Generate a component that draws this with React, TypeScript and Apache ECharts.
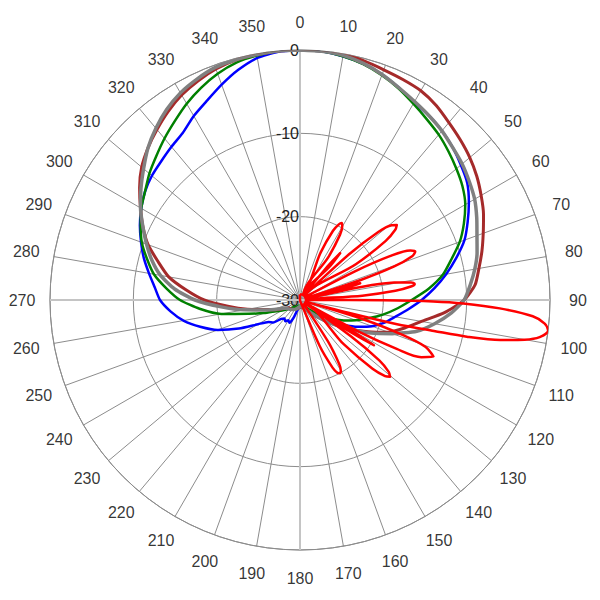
import React, { useEffect, useRef } from "react";
import * as echarts from "echarts";

const angleTicks = [0, 10, 20, 30, 40, 50, 60, 70, 80, 90, 100, 110, 120, 130, 140, 150, 160, 170, 180, 190, 200, 210, 220, 230, 240, 250, 260, 270, 280, 290, 300, 310, 320, 330, 340, 350];

const radiusMin = -30;
const radiusMax = 0;
const radiusStep = 10;

const angles5 = [0, 5, 10, 15, 20, 25, 30, 35, 40, 45, 50, 55, 60, 65, 70, 75, 80, 85, 90, 95, 100, 105, 110, 115, 120, 125, 130, 135, 140, 145, 150, 155, 160, 165, 170, 175, 180, 185, 190, 195, 200, 205, 210, 215, 220, 225, 230, 235, 240, 245, 250, 255, 260, 265, 270, 275, 280, 285, 290, 295, 300, 305, 310, 315, 320, 325, 330, 335, 340, 345, 350, 355];

const blueDb = [0, -0.05, -0.3, -0.65, -1.2, -1.9, -2.6, -3.0, -3.5, -4.1, -4.8, -5.5, -6.6, -7.8, -9.0, -10.6, -12.2, -13.8, -15.4, -17.0, -18.4, -19.5, -20.8, -22.4, -24.0, -25.3, -26.3, -27.3, -28.0, -28.5, -28.8, -29.0, -29.1, -29.2, -29.2, -29.2, -29.2, -29.1, -29.0, -28.7, -27.7, -27.0, -27.2, -26.9, -27.1, -26.8, -25.8, -25.4, -24.2, -21.9, -19.5, -17.6, -15.8, -14.4, -13.2, -12.5, -11.6, -10.6, -9.7, -8.8, -8.0, -7.3, -6.8, -6.45, -6.0, -5.5, -4.5, -3.6, -2.5, -1.4, -0.5, -0.1];

const greenDb = [0, -0.05, -0.3, -0.7, -1.3, -2.0, -2.8, -3.5, -4.1, -4.8, -5.5, -6.2, -7.1, -8.3, -9.6, -11.2, -12.6, -14.5, -16.6, -18.3, -19.9, -21.5, -22.9, -24.2, -25.5, -26.7, -27.6, -28.3, -28.8, -29.1, -29.2, -29.3, -29.3, -29.3, -29.3, -29.3, -29.3, -29.3, -29.3, -29.3, -29.2, -29.2, -29.1, -29.0, -28.9, -28.7, -28.4, -28.0, -27.5, -26.8, -25.4, -23.6, -20.4, -17.9, -15.6, -13.9, -12.2, -11.0, -9.8, -8.9, -8.0, -7.3, -6.4, -5.6, -4.7, -3.8, -2.8, -1.9, -1.1, -0.5, -0.2, 0];

const brownDb = [0, 0, 0, -0.3, -0.6, -0.8, -1.0, -1.5, -2.2, -2.8, -3.4, -4.1, -4.9, -5.7, -6.6, -7.4, -8.2, -8.9, -10.3, -12.6, -15.2, -17.0, -18.7, -21.0, -23.0, -24.8, -26.2, -27.2, -27.9, -28.4, -28.7, -28.9, -29.0, -29.1, -29.1, -29.1, -29.1, -29.1, -29.0, -29.0, -28.9, -28.8, -28.7, -28.6, -28.5, -28.5, -28.4, -28.4, -28.0, -27.4, -26.6, -25.6, -23.6, -21.3, -18.5, -16.3, -14.0, -12.4, -10.6, -9.2, -7.9, -6.5, -5.2, -4.2, -3.3, -2.4, -1.6, -1.0, -0.5, -0.2, -0.1, 0];

const grayDb = [0, -0.05, -0.2, -0.6, -1.2, -1.9, -2.5, -3.0, -3.5, -4.1, -4.6, -5.2, -5.8, -6.6, -7.4, -8.0, -8.7, -9.5, -10.3, -11.8, -13.6, -15.5, -18.2, -20.6, -23.0, -24.8, -26.2, -27.3, -28.0, -28.5, -28.8, -29.0, -29.1, -29.2, -29.2, -29.2, -29.2, -29.2, -29.1, -29.0, -28.9, -28.8, -28.7, -28.6, -28.5, -28.4, -28.3, -28.2, -28.1, -27.6, -26.7, -25.4, -23.2, -20.5, -17.4, -14.9, -13.0, -11.6, -10.4, -9.2, -7.9, -6.7, -5.5, -4.2, -3.1, -2.1, -1.3, -0.75, -0.3, -0.15, -0.1, 0];

const redAngles = [0, 21.5, 23.5, 25.5, 27.2, 28.5, 29.8, 31.5, 33.5, 35.5, 38, 39.5, 40.6, 41.7, 43, 45, 47, 49, 50.8, 52.2, 53.6, 55.4, 57.4, 59.5, 61, 62.5, 64, 65.8, 67.2, 68.6, 70.4, 71.8, 72.8, 73.6, 74.4, 75.2, 76.2, 78, 79.5, 81, 82, 83, 84.5, 86, 88, 89.8, 90.2, 90.6, 91.2, 92.4, 94, 95.5, 97, 98.8, 100, 101.3, 102.4, 103, 104, 104.8, 105.8, 107, 108.8, 110.5, 113, 115.2, 116.8, 118.3, 119.5, 120.5, 121.5, 122.5, 123.5, 125.5, 127.3, 129, 130.4, 131.8, 133.5, 135.3, 137.5, 143.5, 146, 148.5, 150, 151.4, 152.8, 154.3, 156.8, 159, 180, 270, 359];

const redDb = [-29.3, -29.3, -23.8, -20.8, -19.8, -19.5, -19.8, -20.8, -23.8, -29.3, -29.3, -24.5, -22.6, -24.5, -29.3, -29.3, -22, -17.5, -15.8, -15.3, -15.8, -17.5, -22, -29.3, -29.3, -22.5, -18, -15.5, -15.0, -15.5, -18, -22.5, -29.3, -24.5, -22.5, -24.5, -29.3, -22.5, -18.5, -16.5, -16.1, -16.5, -18.5, -22.5, -29.3, -29.3, -20, -14, -10.4, -6.0, -2.0, -0.5, 0, -0.9, -2.6, -5.5, -9.5, -13.5, -18, -24, -29.3, -22, -17, -13.9, -12.6, -13.9, -17, -22, -29.3, -23.5, -19.6, -23.5, -29.3, -22.5, -18, -16.3, -15.8, -16.3, -18, -22.5, -29.3, -29.3, -24, -21, -20.2, -20, -20.2, -21, -24, -29.3, -30, -30, -29.3];

const FONT = "'Liberation Sans', Arial, sans-serif";

function closedLoop(angles: number[], db: number[]) {
  const pts = angles.map((a, i) => [db[i], a]);
  pts.push([db[0], 360]);
  return pts;
}

function lineSeries(name: string, data: number[][], color: string, width: number, smooth: number | boolean = false) {
  return {
    name,
    type: "line",
    coordinateSystem: "polar",
    polarIndex: 0,
    data,
    smooth,
    symbol: "none",
    showSymbol: false,
    silent: true,
    lineStyle: { color, width, join: "round" },
    itemStyle: { color },
  };
}

export default function App() {
  const ref = useRef<HTMLDivElement>(null);

  useEffect(() => {
    if (!ref.current) return;
    const chart = echarts.init(ref.current, null, { renderer: "svg" });
    const gridColor = "#8c8c8c";
    chart.setOption({
      animation: false,
      backgroundColor: "#ffffff",
      textStyle: { fontFamily: FONT },
      polar: [
        { center: ["50%", "50%"], radius: 250 },
        { center: ["50%", "50%"], radius: 278 },
      ],
      angleAxis: [
        {
          polarIndex: 0,
          type: "value",
          min: 0,
          max: 360,
          interval: 10,
          startAngle: 90,
          clockwise: true,
          axisLine: { show: true, lineStyle: { color: gridColor, width: 1 } },
          axisTick: { show: false },
          axisLabel: { show: false },
          splitLine: { show: true, lineStyle: { color: gridColor, width: 1 } },
        },
        {
          polarIndex: 1,
          type: "value",
          min: 0,
          max: 360,
          startAngle: 90,
          clockwise: true,
          show: false,
        },
      ],
      radiusAxis: [
        {
          polarIndex: 0,
          type: "value",
          min: radiusMin,
          max: radiusMax,
          interval: radiusStep,
          axisLine: { show: false },
          axisTick: { show: false },
          axisLabel: { show: true, fontSize: 16, color: "#222222", margin: 1, fontFamily: FONT },
          splitLine: { show: true, lineStyle: { color: gridColor, width: 1 } },
        },
        {
          polarIndex: 1,
          type: "value",
          min: 0,
          max: 1,
          show: false,
        },
      ],
      series: [
        lineSeries("axis0", [[radiusMax, 0], [radiusMax, 180]], "#c4c4c4", 2),
        lineSeries("axis90", [[radiusMax, 90], [radiusMax, 270]], "#c4c4c4", 2),
        lineSeries("blue", closedLoop(angles5, blueDb), "#0000ff", 2.5, 0.2),
        lineSeries("green", closedLoop(angles5, greenDb), "#008000", 2.5, 0.2),
        lineSeries("brown", closedLoop(angles5, brownDb), "#a52a2a", 3, 0.2),
        lineSeries("gray", closedLoop(angles5, grayDb), "#808080", 3.5, 0.2),
        lineSeries("red", redAngles.map((a, i) => [redDb[i], a]), "#ff0000", 2.5, 0.3),
        {
          name: "angleLabels",
          type: "scatter",
          coordinateSystem: "polar",
          polarIndex: 1,
          symbolSize: 1,
          silent: true,
          itemStyle: { color: "rgba(0,0,0,0)" },
          data: angleTicks.map((a) => [1, a]),
          label: {
            show: true,
            position: "inside",
            formatter: (p: any) => String(p.value[1]),
            color: "#000000",
            fontSize: 16,
            fontFamily: FONT,
          },
        },
      ],
    });
    return () => chart.dispose();
  }, []);

  return (
    <div
      ref={ref}
      style={{ position: "absolute", left: 0, top: 0, width: 600, height: 600, background: "#fff" }}
    />
  );
}
